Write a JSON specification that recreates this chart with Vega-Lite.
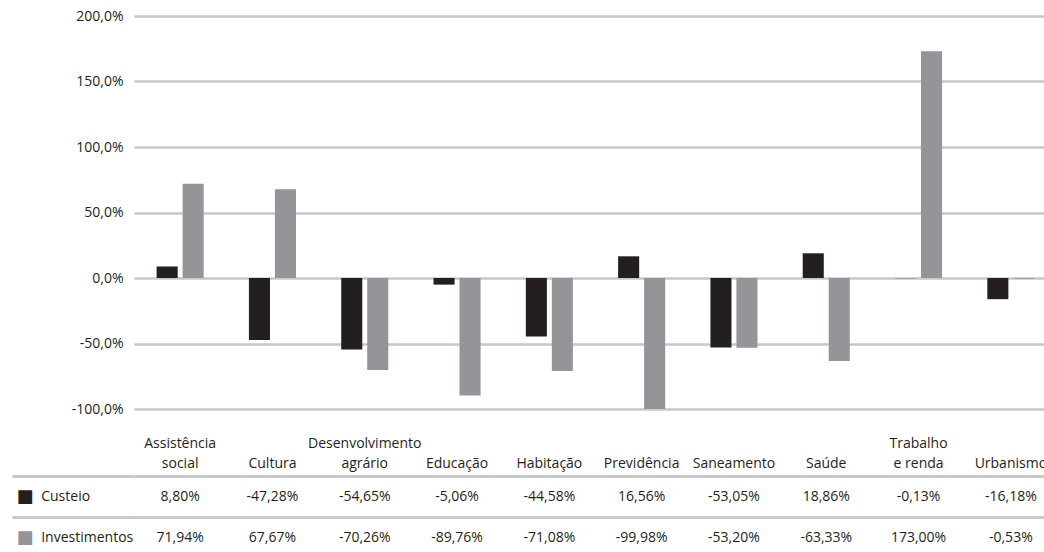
{
  "$schema": "https://vega.github.io/schema/vega-lite/v6.json",
  "background": "white",
  "padding": {"top": 9, "left": 10, "right": 0, "bottom": 0},
  "config": {
    "view": {"stroke": null},
    "font": "Open Sans",
    "axis": {"labelFont": "Open Sans", "labelFontSize": 14, "labelColor": "#231f20"}
  },
  "datasets": {
    "dados": [
      {"categoria": "Assistência social", "serie": "Custeio", "valor": 8.80, "rotulo": "8,80%"},
      {"categoria": "Cultura", "serie": "Custeio", "valor": -47.28, "rotulo": "-47,28%"},
      {"categoria": "Desenvolvimento agrário", "serie": "Custeio", "valor": -54.65, "rotulo": "-54,65%"},
      {"categoria": "Educação", "serie": "Custeio", "valor": -5.06, "rotulo": "-5,06%"},
      {"categoria": "Habitação", "serie": "Custeio", "valor": -44.58, "rotulo": "-44,58%"},
      {"categoria": "Previdência", "serie": "Custeio", "valor": 16.56, "rotulo": "16,56%"},
      {"categoria": "Saneamento", "serie": "Custeio", "valor": -53.05, "rotulo": "-53,05%"},
      {"categoria": "Saúde", "serie": "Custeio", "valor": 18.86, "rotulo": "18,86%"},
      {"categoria": "Trabalho e renda", "serie": "Custeio", "valor": -0.13, "rotulo": "-0,13%"},
      {"categoria": "Urbanismo", "serie": "Custeio", "valor": -16.18, "rotulo": "-16,18%"},
      {"categoria": "Assistência social", "serie": "Investimentos", "valor": 71.94, "rotulo": "71,94%"},
      {"categoria": "Cultura", "serie": "Investimentos", "valor": 67.67, "rotulo": "67,67%"},
      {"categoria": "Desenvolvimento agrário", "serie": "Investimentos", "valor": -70.26, "rotulo": "-70,26%"},
      {"categoria": "Educação", "serie": "Investimentos", "valor": -89.76, "rotulo": "-89,76%"},
      {"categoria": "Habitação", "serie": "Investimentos", "valor": -71.08, "rotulo": "-71,08%"},
      {"categoria": "Previdência", "serie": "Investimentos", "valor": -99.98, "rotulo": "-99,98%"},
      {"categoria": "Saneamento", "serie": "Investimentos", "valor": -53.20, "rotulo": "-53,20%"},
      {"categoria": "Saúde", "serie": "Investimentos", "valor": -63.33, "rotulo": "-63,33%"},
      {"categoria": "Trabalho e renda", "serie": "Investimentos", "valor": 173.00, "rotulo": "173,00%"},
      {"categoria": "Urbanismo", "serie": "Investimentos", "valor": -0.53, "rotulo": "-0,53%"}
    ]
  },
  "spacing": 67,
  "bounds": "flush",
  "vconcat": [
    {
      "width": 923,
      "height": 393,
      "data": {"name": "dados"},
      "mark": {"type": "bar"},
      "encoding": {
        "x": {
          "field": "categoria",
          "type": "nominal",
          "sort": null,
          "scale": {
            "domain": ["Assistência social", "Cultura", "Desenvolvimento agrário", "Educação", "Habitação", "Previdência", "Saneamento", "Saúde", "Trabalho e renda", "Urbanismo"],
            "paddingInner": 0,
            "paddingOuter": 0
          },
          "axis": {
            "title": null,
            "domain": false,
            "ticks": false,
            "grid": false,
            "labelAngle": 0,
            "labelPadding": 38,
            "labelBaseline": "alphabetic",
            "labelLineHeight": 20,
            "labelOverlap": false,
            "labelExpr": "datum.value == 'Assistência social' ? ['Assistência', 'social'] : datum.value == 'Desenvolvimento agrário' ? ['Desenvolvimento', 'agrário'] : datum.value == 'Trabalho e renda' ? ['Trabalho', 'e renda'] : ['', datum.value]"
          }
        },
        "xOffset": {
          "field": "serie",
          "type": "nominal",
          "scale": {"domain": ["Custeio", "Investimentos"], "paddingInner": 0.19, "paddingOuter": 0.87}
        },
        "y": {
          "field": "valor",
          "type": "quantitative",
          "scale": {"domain": [-100, 200], "nice": false, "zero": false},
          "axis": {
            "title": null,
            "values": [-100, -50, 0, 50, 100, 150, 200],
            "domain": false,
            "ticks": false,
            "labelPadding": 11,
            "grid": true,
            "gridColor": "#c6c7c9",
            "gridWidth": 2.5,
            "labelExpr": "(datum.value < 0 ? '-' : '') + replace(format(abs(datum.value), '.1f'), '.', ',') + '%'"
          }
        },
        "color": {
          "field": "serie",
          "type": "nominal",
          "scale": {"domain": ["Custeio", "Investimentos"], "range": ["#231f20", "#939598"]},
          "legend": null
        }
      }
    },
    {
      "width": 923,
      "height": 82,
      "data": {"name": "dados"},
      "layer": [
        {
          "mark": {"type": "text", "font": "Open Sans", "fontSize": 14, "color": "#231f20", "baseline": "middle", "align": "center"},
          "encoding": {
            "x": {
              "field": "categoria",
              "type": "nominal",
              "sort": null,
              "scale": {
                "domain": ["Assistência social", "Cultura", "Desenvolvimento agrário", "Educação", "Habitação", "Previdência", "Saneamento", "Saúde", "Trabalho e renda", "Urbanismo"],
                "paddingInner": 0,
                "paddingOuter": 0
              },
              "axis": null
            },
            "y": {
              "field": "serie",
              "type": "nominal",
              "scale": {"domain": ["Custeio", "Investimentos"], "paddingInner": 0, "paddingOuter": 0},
              "axis": {
                "title": null,
                "domain": false,
                "ticks": true,
                "tickSize": 122,
                "tickWidth": 3,
                "tickColor": "#c9c9cb",
                "tickBand": "extent",
                "grid": true,
                "gridWidth": 3,
                "gridColor": "#c9c9cb",
                "labelAlign": "left",
                "labelBaseline": "middle",
                "labelPadding": -28.7
              }
            },
            "text": {"field": "rotulo"}
          }
        },
        {
          "mark": {"type": "text", "opacity": 0},
          "encoding": {
            "y": {
              "field": "serie",
              "type": "nominal",
              "scale": {"domain": ["Custeio", "Investimentos"], "paddingInner": 0, "paddingOuter": 0},
              "axis": {
                "orient": "left",
                "title": null,
                "domain": false,
                "ticks": false,
                "tickSize": 0,
                "grid": false,
                "labelAlign": "left",
                "labelBaseline": "middle",
                "labelPadding": 118,
                "labelFont": "DejaVu Sans",
                "labelFontSize": 18,
                "labelColor": {"condition": {"test": "datum.value == 'Custeio'", "value": "#231f20"}, "value": "#939598"},
                "labelExpr": "'■'"
              }
            },
            "text": {"value": "x"}
          }
        }
      ],
      "resolve": {"scale": {"y": "independent"}, "axis": {"y": "independent"}}
    }
  ]
}
